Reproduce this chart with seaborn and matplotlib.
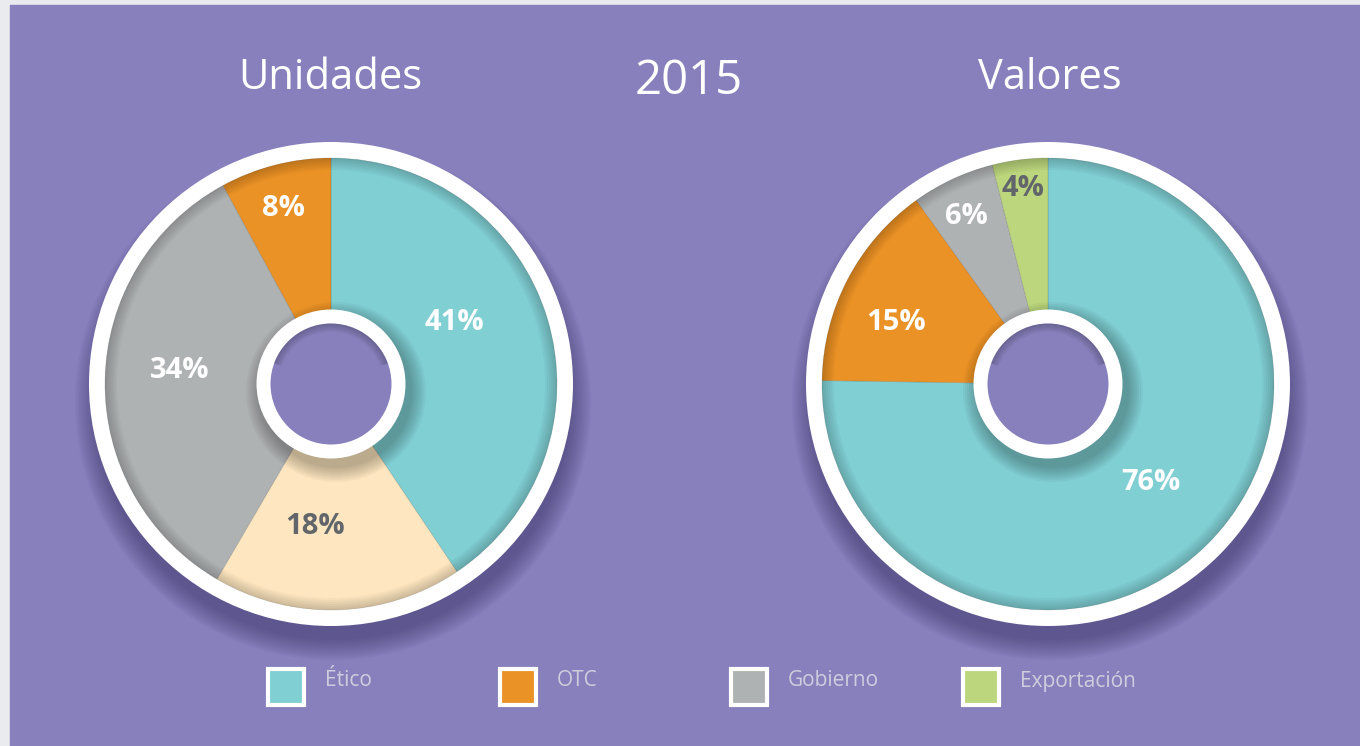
import numpy as np
import pandas as pd
import matplotlib.pyplot as plt
import seaborn as sns
from matplotlib.patches import Circle, Rectangle, Wedge

sns.set_theme(style="white")
plt.rcParams["font.family"] = ["Open Sans", "DejaVu Sans"]

# data
anio = "2015"
unidades_cat = ["Ético", "Otros", "Gobierno", "OTC"]
unidades_val = [41, 18, 34, 8]
valores_cat = ["Ético", "OTC", "Gobierno", "Exportación"]
valores_val = [76, 15, 6, 4]
leyenda = ["Ético", "OTC", "Gobierno", "Exportación"]

# colours
colores = {"Ético": "#80CFD3", "OTC": "#EB9226", "Gobierno": "#AFB2B3",
           "Exportación": "#BBD67C", "Otros": "#FEE7C0"}
texto_oscuro = {"Otros", "Exportación"}
morado = "#8780BC"
fondo = "#E9EBEF"

W, H = 1360, 746


def py(y):
    # pixel row (from top) -> data y
    return H - y


fig = plt.figure(figsize=(W / 100, H / 100), dpi=100, facecolor=fondo)
ax = fig.add_axes([0, 0, 1, 1])
ax.add_patch(Rectangle((10, 0), W - 10, H - 5, color=morado, zorder=0))


def dona(cx, cy, cats, vals, pos_labels):
    c = (cx, py(cy))
    # drop shadow under the disc
    for r in np.arange(258, 236, -2):
        ax.add_patch(Circle((cx + 2, py(cy) - 18), r, color="#3b3468", alpha=0.06, lw=0, zorder=1))
    ax.add_patch(Circle(c, 242, color="white", lw=0, zorder=2))
    wedges, _ = ax.pie(vals, colors=[colores[k] for k in cats], startangle=90,
                       counterclock=False, center=c, radius=226, frame=True,
                       wedgeprops=dict(linewidth=0.6, edgecolor=(0, 0, 0, 0.12)))
    for w in wedges:
        w.set_zorder(3)
    # inner shading along the rim
    for wd in range(2, 14, 2):
        ax.add_patch(Wedge(c, 226, 0, 360, width=wd, color="black", alpha=0.03, lw=0, zorder=4))
    # shadow of the hole
    for r in np.arange(90, 74, -2):
        ax.add_patch(Circle((cx + 5, py(cy) - 8), r, color="black", alpha=0.035, lw=0, zorder=4))
    ax.add_patch(Circle(c, 74.5, color="white", lw=0, zorder=5))
    ax.add_patch(Circle(c, 60.5, color=morado, lw=0, zorder=6))
    for wd in range(2, 10, 2):
        ax.add_patch(Wedge((cx, py(cy)), 60.5, 20, 160, width=wd, color="black", alpha=0.05, lw=0, zorder=7))
    for k, v, (lx, ly) in zip(cats, vals, pos_labels):
        col = "#62666A" if k in texto_oscuro else "white"
        ax.text(lx, py(ly), f"{v}%", color=col, fontsize=21, fontweight="bold",
                ha="center", va="center", zorder=8)


dona(331, 384, unidades_cat, unidades_val, [(454, 322), (315, 527), (180, 371), (283, 208)])
dona(1048, 384, valores_cat, valores_val, [(1151, 483), (896, 322), (966, 217), (1023, 189)])

ax.text(330, py(78), "Unidades", color="white", fontsize=30, ha="center", va="center")
ax.text(1050, py(78), "Valores", color="white", fontsize=30, ha="center", va="center")
ax.text(689, py(81), anio, color="white", fontsize=34, ha="center", va="center")

# legend
for i, k in enumerate(leyenda):
    x0 = 268 + i * 231.5
    ax.add_patch(Rectangle((x0, py(705)), 36, 36, facecolor=colores[k], edgecolor="white",
                           lw=3, zorder=8))
    ax.text(x0 + 57, py(681), k, color="#CFCDDD", fontsize=15, ha="left", va="center", zorder=8)

ax.set_xlim(0, W)
ax.set_ylim(0, H)
ax.set_aspect("equal")
ax.axis("off")

fig.savefig("out.png", dpi=100, facecolor=fondo)
